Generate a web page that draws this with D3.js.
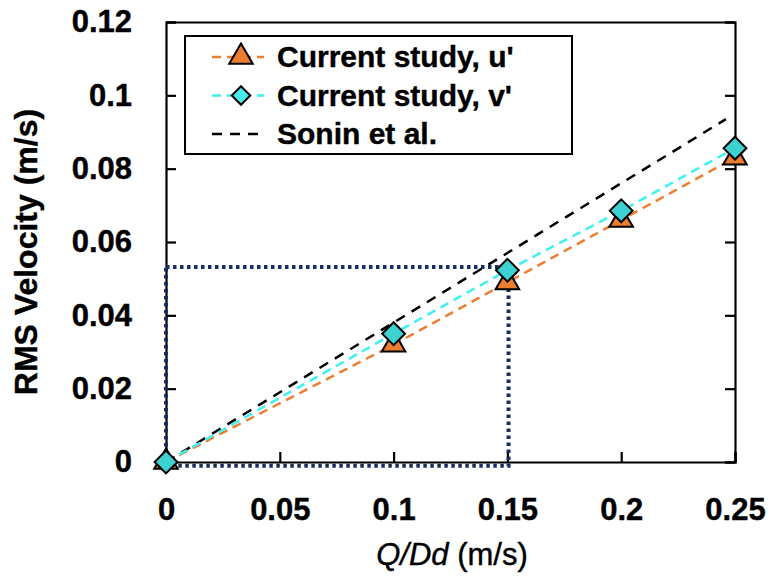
<!DOCTYPE html>
<html>
<head>
<meta charset="utf-8">
<script src="https://cdn.jsdelivr.net/npm/d3@7"></script>
<style>
  body { margin: 0; background: #fff; }
  svg text { font-family: "Liberation Sans", Arial, sans-serif; }
</style>
</head>
<body>
<svg id="chart" width="771" height="577"></svg>
<script>
// values
var flowRate = [0, 0.1, 0.15, 0.2, 0.25];            // Q/Dd (m/s)
var uPrime   = [0, 0.032, 0.049, 0.066, 0.083];      // current study, u'
var vPrime   = [0, 0.035, 0.0523, 0.0685, 0.0856];   // current study, v'
var soninQ   = [0, 0.246];                           // Sonin et al. line
var soninV   = [0, 0.0935];
var xTicks   = [0, 0.05, 0.1, 0.15, 0.2, 0.25];
var yTicks   = [0, 0.02, 0.04, 0.06, 0.08, 0.1, 0.12];
var boxQ     = [0, 0.1505];                          // dotted highlight box
var boxV     = [-0.001, 0.0532];

var svg = d3.select("#chart");
var x = d3.scaleLinear().domain([0, 0.25]).range([166, 735]);
var y = d3.scaleLinear().domain([0, 0.12]).range([462, 22]);

var fmt = function(d) { return d === 0 ? "0" : String(+d.toFixed(2)); };

// axes with inward ticks
svg.append("g").attr("transform", "translate(0,462)")
  .call(d3.axisBottom(x).tickValues(xTicks).tickSize(-10).tickPadding(36).tickFormat(fmt));
svg.append("g").attr("transform", "translate(166,0)")
  .call(d3.axisLeft(y).tickValues(yTicks).tickSize(-10).tickPadding(34).tickFormat(fmt));
svg.append("g").attr("transform", "translate(735,0)")
  .call(d3.axisRight(y).tickValues(yTicks).tickSize(-10).tickFormat(""));
svg.append("g").attr("transform", "translate(0,22)")
  .call(d3.axisTop(x).tickValues([]).tickSizeOuter(0));

svg.selectAll(".domain, .tick line").attr("stroke", "#000").attr("stroke-width", 2.2);
svg.selectAll(".tick text").attr("font-size", 31).attr("font-weight", "bold").attr("fill", "#000")
  .attr("stroke", "#000").attr("stroke-width", 0.4);

// axis titles
svg.append("text")
  .attr("transform", "translate(37,252) rotate(-90)")
  .attr("text-anchor", "middle").attr("font-size", 32).attr("font-weight", "bold")
  .attr("stroke", "#000").attr("stroke-width", 0.4)
  .text("RMS Velocity (m/s)");
var xt = svg.append("text").attr("x", 452).attr("y", 565)
  .attr("text-anchor", "middle").attr("font-size", 31)
  .attr("stroke", "#000").attr("stroke-width", 0.4);
xt.append("tspan").attr("font-style", "italic").text("Q/Dd");
xt.append("tspan").text(" (m/s)");

// dotted box
svg.append("rect")
  .attr("x", x(boxQ[0])).attr("y", y(boxV[1]))
  .attr("width", x(boxQ[1]) - x(boxQ[0])).attr("height", y(boxV[0]) - y(boxV[1]))
  .attr("fill", "none").attr("stroke", "#1a2c66").attr("stroke-width", 4)
  .attr("stroke-dasharray", "3.5,3.5");

// lines
var line = d3.line().x(d => x(d[0])).y(d => y(d[1]));
svg.append("path").datum(d3.zip(soninQ, soninV)).attr("d", line)
  .attr("fill", "none").attr("stroke", "#000").attr("stroke-width", 2.5)
  .attr("stroke-dasharray", "10,8");
svg.append("path").datum(d3.zip(flowRate, uPrime)).attr("d", line)
  .attr("fill", "none").attr("stroke", "#ED7D31").attr("stroke-width", 2.5)
  .attr("stroke-dasharray", "9,6");
svg.append("path").datum(d3.zip(flowRate, vPrime)).attr("d", line)
  .attr("fill", "none").attr("stroke", "#3ff0f0").attr("stroke-width", 2.5)
  .attr("stroke-dasharray", "9,6");

// markers
var tri = d3.symbol().type(d3.symbolTriangle).size(240);
var dia = d3.symbol().type(d3.symbolSquare).size(260);
svg.selectAll(".u").data(d3.zip(flowRate, uPrime)).enter().append("path")
  .attr("d", tri).attr("transform", d => "translate(" + x(d[0]) + "," + y(d[1]) + ")")
  .attr("fill", "#ED7D31").attr("stroke", "#000").attr("stroke-width", 2);
svg.selectAll(".v").data(d3.zip(flowRate, vPrime)).enter().append("path")
  .attr("d", dia).attr("transform", d => "translate(" + x(d[0]) + "," + y(d[1]) + ") rotate(45)")
  .attr("fill", "#3cd2d2").attr("stroke", "#000").attr("stroke-width", 2);

// legend
var lg = svg.append("g");
lg.append("rect").attr("x", 185).attr("y", 36).attr("width", 387).attr("height", 118)
  .attr("fill", "#fff").attr("stroke", "#000").attr("stroke-width", 2);
var entries = [
  { label: "Current study, u'", color: "#ED7D31", dash: "9,6", mark: "tri" },
  { label: "Current study, v'", color: "#3ff0f0", dash: "9,6", mark: "dia" },
  { label: "Sonin et al.", color: "#000", dash: "10,8", mark: null }
];
entries.forEach(function(e, i) {
  var by = 67 + i * 38.5, cy = by - 10;
  lg.append("line").attr("x1", 212).attr("x2", 264).attr("y1", cy).attr("y2", cy)
    .attr("stroke", e.color).attr("stroke-width", 2.5).attr("stroke-dasharray", e.dash);
  if (e.mark === "tri") {
    lg.append("path").attr("d", tri).attr("transform", "translate(241," + cy + ")")
      .attr("fill", "#ED7D31").attr("stroke", "#000").attr("stroke-width", 2);
  } else if (e.mark === "dia") {
    lg.append("path").attr("d", d3.symbol().type(d3.symbolSquare).size(170))
      .attr("transform", "translate(241," + cy + ") rotate(45)")
      .attr("fill", "#45ecec").attr("stroke", "#000").attr("stroke-width", 2);
  }
  lg.append("text").attr("x", 277).attr("y", by).attr("font-size", 30).attr("font-weight", "bold")
    .attr("stroke", "#000").attr("stroke-width", 0.4)
    .text(e.label);
});
</script>
</body>
</html>
